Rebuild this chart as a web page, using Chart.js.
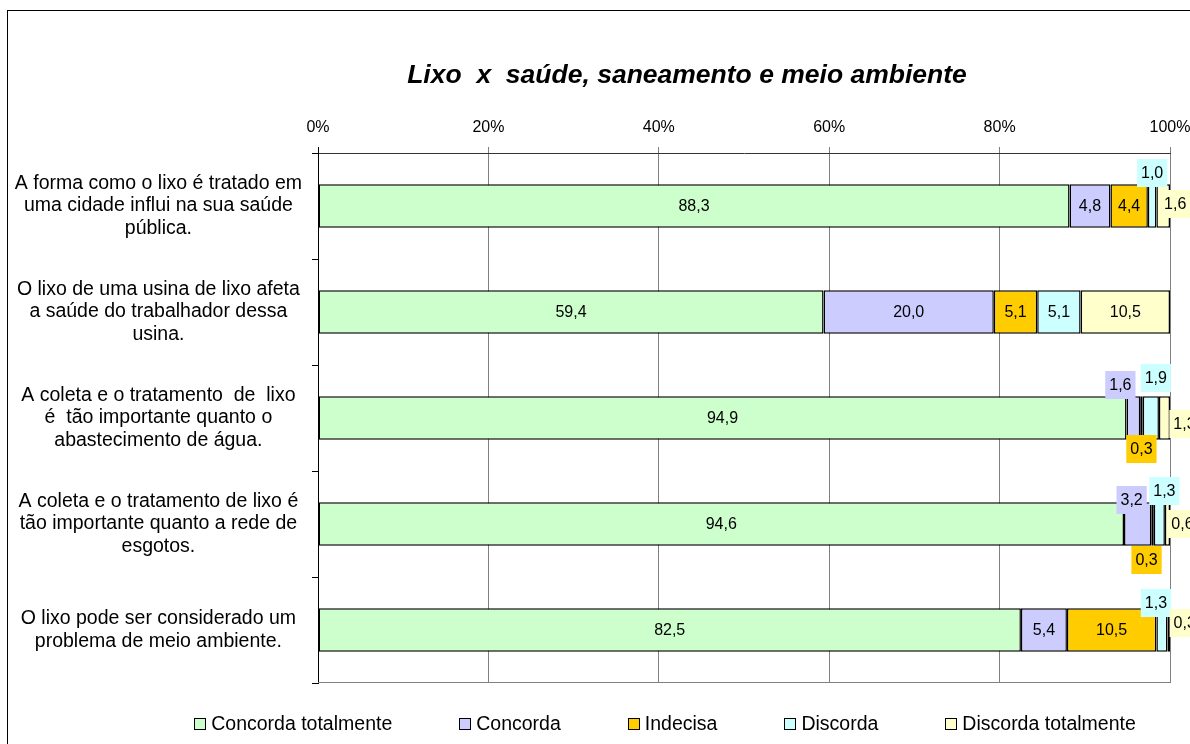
<!DOCTYPE html>
<html>
<head>
<meta charset="utf-8">
<script src="https://cdn.jsdelivr.net/npm/chart.js@4.4.1/dist/chart.umd.min.js"></script>
<style>
html, body { margin: 0; padding: 0; background: #fff; }
canvas { display: block; }
</style>
</head>
<body>
<canvas id="barChart" width="1190" height="744"></canvas>
<script>
// dados
var titulo = 'Lixo  x  saúde, saneamento e meio ambiente';
var categorias = [
    ['A forma como o lixo é tratado em', 'uma cidade influi na sua saúde', 'pública.'],
    ['O lixo de uma usina de lixo afeta', 'a saúde do trabalhador dessa', 'usina.'],
    ['A coleta e o tratamento  de  lixo', 'é  tão importante quanto o', 'abastecimento de água.'],
    ['A coleta e o tratamento de lixo é', 'tão importante quanto a rede de', 'esgotos.'],
    ['O lixo pode ser considerado um', 'problema de meio ambiente.']
];
var nomesSeries = ['Concorda totalmente', 'Concorda', 'Indecisa', 'Discorda', 'Discorda totalmente'];
var concordaTotal = [88.3, 59.4, 94.9, 94.6, 82.5];
var concorda = [4.8, 20.0, 1.6, 3.2, 5.4];
var indecisa = [4.4, 5.1, 0.3, 0.3, 10.5];
var discorda = [1.0, 5.1, 1.9, 1.3, 1.3];
var discordaTotal = [1.6, 10.5, 1.3, 0.6, 0.3];
var ticksX = [0, 20, 40, 60, 80, 100];

var cores = ['#CCFFCC', '#CCCCFF', '#FFCC00', '#CCFFFF', '#FFFFCC'];
var fonte = "'Liberation Sans', Arial, sans-serif";

// etiquetas pequenas deslocadas (linha-serie : [dx, dy])
var etiquetasFora = {
    '0-3': [0, -33], '0-4': [12, -2],
    '2-1': [-13, -33], '2-2': [0, 31], '2-3': [5, -40], '2-4': [20, 6],
    '3-1': [-6, -24], '3-2': [-6, 36], '3-3': [5, -33], '3-4': [15, 0],
    '4-3': [-6, -27], '4-4': [16, -7]
};

var series = [concordaTotal, concorda, indecisa, discorda, discordaTotal];
var totais = categorias.map(function (c, i) {
    var s = 0;
    for (var k = 0; k < series.length; k++) s += series[k][i];
    return s;
});

var datasets = series.map(function (valores, k) {
    return {
        label: nomesSeries[k],
        valores: valores,
        data: valores.map(function (v, i) { return v / totais[i] * 100; }),
        backgroundColor: cores[k],
        borderColor: '#000',
        borderWidth: 1.5,
        borderSkipped: false,
        categoryPercentage: 1,
        barPercentage: 0.41
    };
});

function formata(v) {
    return v.toFixed(1).replace('.', ',');
}

var extras = {
    id: 'extras',
    beforeDraw: function (chart) {
        var ctx = chart.ctx;
        ctx.save();
        ctx.fillStyle = '#fff';
        ctx.fillRect(0, 0, chart.width, chart.height);
        ctx.restore();
    },
    afterDatasetsDraw: function (chart) {
        var ctx = chart.ctx;
        var area = chart.chartArea;
        ctx.save();
        // linha inferior da área de plotagem
        ctx.strokeStyle = '#808080';
        ctx.lineWidth = 1;
        ctx.beginPath();
        ctx.moveTo(area.left, Math.round(area.bottom) - 0.5);
        ctx.lineTo(area.right, Math.round(area.bottom) - 0.5);
        ctx.stroke();

        ctx.font = '16px ' + fonte;
        ctx.textAlign = 'center';
        ctx.textBaseline = 'middle';
        chart.data.datasets.forEach(function (ds, k) {
            var meta = chart.getDatasetMeta(k);
            meta.data.forEach(function (bar, i) {
                var p = bar.getProps(['x', 'y', 'base'], true);
                var cx = (p.x + p.base) / 2;
                var cy = p.y;
                var txt = formata(ds.valores[i]);
                var off = etiquetasFora[i + '-' + k];
                if (off) {
                    cx += off[0];
                    cy += off[1];
                    var w = ctx.measureText(txt).width;
                    ctx.fillStyle = ds.backgroundColor;
                    ctx.fillRect(cx - w / 2 - 4, cy - 14, w + 8, 28);
                }
                ctx.fillStyle = '#000';
                ctx.fillText(txt, cx, cy + 1);
            });
        });
        ctx.restore();
    },
    afterDraw: function (chart) {
        var ctx = chart.ctx;
        ctx.save();
        // moldura do gráfico
        ctx.strokeStyle = '#000';
        ctx.lineWidth = 1;
        ctx.strokeRect(7.5, 10.5, 2000, 2000);

        // título
        ctx.fillStyle = '#000';
        ctx.font = 'italic bold 26.5px ' + fonte;
        ctx.textAlign = 'center';
        ctx.textBaseline = 'middle';
        ctx.fillText(titulo, 687, 76);

        // legenda
        ctx.font = '19.5px ' + fonte;
        ctx.textAlign = 'left';
        var caixa = 11, folga = 6, espaco = 67;
        var larguras = chart.data.datasets.map(function (ds) { return ctx.measureText(ds.label).width; });
        var total = 0;
        larguras.forEach(function (w) { total += caixa + folga + w; });
        total += espaco * (larguras.length - 1);
        var x = 665 - total / 2;
        var y = 724;
        chart.data.datasets.forEach(function (ds, k) {
            ctx.fillStyle = ds.backgroundColor;
            ctx.fillRect(Math.round(x) + 0.5, y - 5.5, caixa, caixa);
            ctx.strokeStyle = '#000';
            ctx.strokeRect(Math.round(x) + 0.5, y - 5.5, caixa, caixa);
            ctx.fillStyle = '#000';
            ctx.fillText(ds.label, x + caixa + folga, y + 1);
            x += caixa + folga + larguras[k] + espaco;
        });
        ctx.restore();
    }
};

var chart = new Chart(document.getElementById('barChart'), {
    type: 'bar',
    data: { labels: categorias, datasets: datasets },
    plugins: [extras],
    options: {
        indexAxis: 'y',
        responsive: false,
        animation: false,
        devicePixelRatio: 1,
        layout: { padding: { top: 98, left: 8, right: 20, bottom: 61 } },
        plugins: {
            legend: { display: false },
            title: { display: false },
            tooltip: { enabled: false }
        },
        scales: {
            x: {
                position: 'top',
                stacked: true,
                min: 0,
                max: 100,
                afterBuildTicks: function (scale) {
                    scale.ticks = ticksX.map(function (v) { return { value: v }; });
                },
                afterFit: function (scale) {
                    scale.height = 55;
                    scale.paddingLeft = 0;
                    scale.paddingRight = 0;
                },
                grid: {
                    color: function (c) { return c.index === 0 ? '#000' : '#808080'; },
                    tickLength: 6
                },
                border: { color: '#333' },
                ticks: {
                    color: '#000',
                    padding: 10,
                    font: { family: fonte, size: 16 },
                    callback: function (v) { return v + '%'; }
                }
            },
            y: {
                stacked: true,
                afterFit: function (scale) { scale.width = 310; },
                grid: {
                    offset: true,
                    drawOnChartArea: false,
                    tickLength: 6,
                    color: '#000'
                },
                border: { color: '#000' },
                ticks: {
                    color: '#000',
                    crossAlign: 'center',
                    padding: 10,
                    font: { family: fonte, size: 19.5, lineHeight: 1.15 }
                }
            }
        }
    }
});
</script>
</body>
</html>
